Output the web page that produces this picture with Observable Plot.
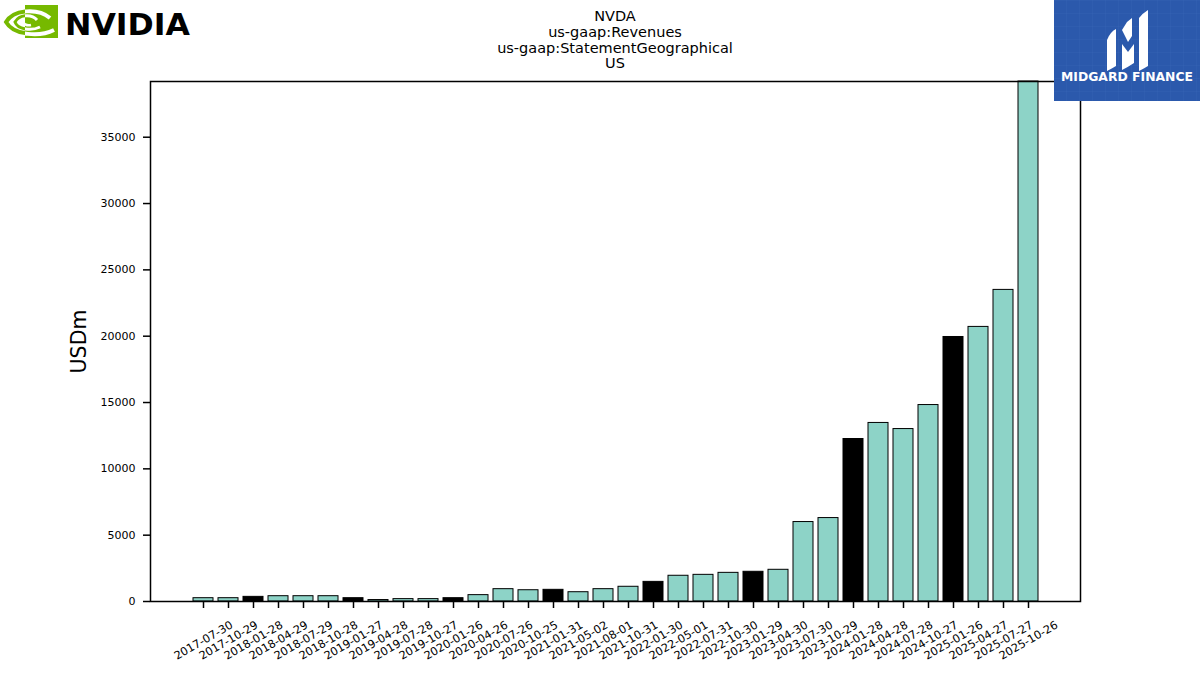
<!DOCTYPE html>
<html><head><meta charset="utf-8">
<script src="https://cdn.jsdelivr.net/npm/d3@7"></script>
<script src="https://cdn.jsdelivr.net/npm/@observablehq/plot@0.6"></script>
<style>
body{margin:0;background:#fff;font-family:"DejaVu Sans",sans-serif;}
#wrap{position:relative;width:1200px;height:675px;overflow:hidden;background:#fff}
#title{position:absolute;left:365px;width:500px;top:9px;text-align:center;font-size:14.5px;line-height:15.8px;color:#000;font-family:"DejaVu Sans",sans-serif}
#logos{position:absolute;left:0;top:0}
</style></head><body>
<div id="wrap">
<div id="chart"></div>
<div id="title">NVDA<br>us-gaap:Revenues<br>us-gaap:StatementGeographical<br>US</div>
<svg id="logos" width="1200" height="110" xmlns="http://www.w3.org/2000/svg">
  <defs>
    <clipPath id="leftc"><rect x="0" y="0" width="25" height="45"/></clipPath>
    <clipPath id="rightc"><rect x="25" y="5" width="33" height="33"/></clipPath>
    <pattern id="grid" width="13" height="13" patternUnits="userSpaceOnUse">
      <path d="M13 0 L0 0 0 13" fill="none" stroke="#3a68b8" stroke-width="1"/>
    </pattern>
  </defs>
  <!-- NVIDIA logo -->
  <rect x="25" y="5" width="33" height="33" fill="#76b900"/>
  <g clip-path="url(#leftc)" fill="none" stroke="#76b900">
    <path d="M52 29 C40 36 14 36 6 22 C14 9 38 8 50 18" stroke-width="4"/>
    <path d="M40 27 C32 31 18 30 15 22 C20 14 32 14 37 20" stroke-width="3"/>
  </g>
  <g clip-path="url(#rightc)" fill="none" stroke="#ffffff">
    <path d="M54 30 C40 37 14 36 6 22 C14 9 38 8 50 18" stroke-width="4"/>
    <path d="M40 27 C32 31 18 30 15 22 C20 14 32 14 37 20" stroke-width="3"/>
    <path d="M31 25 C27 26 22 24 24 20" stroke-width="2.5"/>
  </g>
  <text x="65" y="35" font-family="DejaVu Sans" font-weight="bold" font-size="30" textLength="125" lengthAdjust="spacingAndGlyphs" fill="#000">NVIDIA</text>
  <!-- Midgard Finance logo -->
  <rect x="1054" y="0" width="146" height="101" fill="#2b59ac"/>
  <rect x="1054" y="0" width="146" height="101" fill="url(#grid)" opacity="0.6"/>
  <path d="M1107 40 Q1110 32 1116 29 L1116 66 Q1111 69 1107 71 Z" fill="#fff"/>
  <path d="M1122 30 L1127 22 L1132 18 L1132 36 L1128 42 Z" fill="#fff"/>
  <path d="M1122 44 L1128 52 L1134 44 L1134 63 Q1128 67 1122 70 Z" fill="#fff"/>
  <path d="M1139 18 Q1143 13 1148 10 L1148 66 Q1143 69 1139 71 Z" fill="#fff"/>
  <text x="1127" y="81" text-anchor="middle" font-family="DejaVu Sans" font-weight="bold" font-size="12.5" textLength="132" lengthAdjust="spacingAndGlyphs" fill="#fff">MIDGARD FINANCE</text>
</svg>
</div>
<script>
const periods = ["2017-07-30","2017-10-29","2018-01-28","2018-04-29","2018-07-29","2018-10-28","2019-01-27","2019-04-28","2019-07-28","2019-10-27","2020-01-26","2020-04-26","2020-07-26","2020-10-25","2021-01-31","2021-05-02","2021-08-01","2021-10-31","2022-01-30","2022-05-01","2022-07-31","2022-10-30","2023-01-29","2023-04-30","2023-07-30","2023-10-29","2024-01-28","2024-04-28","2024-07-28","2024-10-27","2025-01-26","2025-04-27","2025-07-27","2025-10-26"];
const revenuesUS = [250,250,350,400,400,400,250,110,180,180,250,480,930,850,880,700,930,1110,1480,1940,2010,2160,2240,2390,5990,6290,12250,13460,13000,14810,19940,20700,23490,39200];
const fiscalYearEnd = ["2018-01-28","2019-01-27","2020-01-26","2021-01-31","2022-01-30","2023-01-29","2024-01-28","2025-01-26"];
const yTicks = [0,5000,10000,15000,20000,25000,30000,35000];
const yLabel = "USDm";

const data = periods.map((p,i)=>({period:p, value:revenuesUS[i], kind: fiscalYearEnd.includes(p) ? "FY" : "Q"}));

const chart = Plot.plot({
  width:1200, height:675,
  marginLeft:150, marginRight:120, marginTop:81, marginBottom:74,
  style:{fontFamily:"DejaVu Sans, sans-serif", fontSize:"11px", background:"white", color:"black"},
  x:{type:"band", domain:periods, paddingInner:0.2, paddingOuter:1.68, axis:null},
  y:{domain:[0,39200], axis:null},
  color:{domain:["FY","Q"], range:["#000000","#8dd3c7"]},
  marks:[
    Plot.barY(data,{x:"period", y:"value", fill:"kind", stroke:"black", strokeWidth:1}),
    Plot.axisY({ticks:yTicks, tickSize:7, tickPadding:8, tickFormat:d=>String(d), label:null, strokeWidth:1.5, fontSize:11}),
    Plot.axisX({tickSize:7, tickFormat:()=>"", label:null, strokeWidth:1.5}),
    Plot.text(periods,{x:d=>d, frameAnchor:"bottom", dy:39, rotate:-30, textAnchor:"middle", lineAnchor:"middle", fontSize:11.3}),
    Plot.text([yLabel],{frameAnchor:"left", dx:-71, rotate:-90, fontSize:20.5, textAnchor:"middle", lineAnchor:"middle"}),
    Plot.frame({stroke:"black", strokeWidth:1.5})
  ]
});
document.getElementById("chart").appendChild(chart);
</script>
</body></html>
